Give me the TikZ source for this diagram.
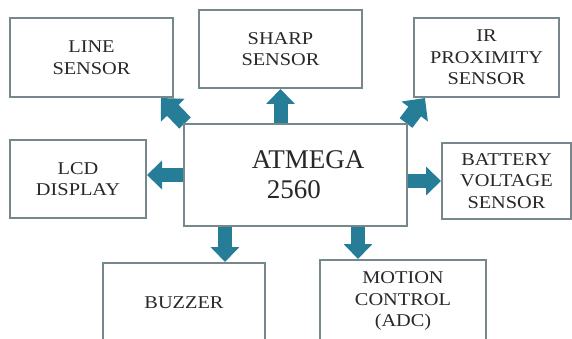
\documentclass[tikz,border=0pt]{standalone}
\usepackage{fontspec}
\setmainfont{Liberation Serif}[FakeStretch=1.13]
\newfontfamily\chipfont{Liberation Serif}
\usepackage{xcolor}
\usepackage{tikz}
\usetikzlibrary{positioning,arrows.meta,backgrounds}
\definecolor{flowblue}{RGB}{38,125,152}
\definecolor{boxgray}{RGB}{118,136,140}
\definecolor{labelgray}{RGB}{40,40,40}

\tikzset{
  blockbox/.style={draw=boxgray, line width=2pt, fill=white, align=center,
    text=labelgray, inner sep=0pt, font=\fontsize{18}{21.5}\selectfont},
  fatarrow/.style={flowblue, line width=14pt, -{Triangle[length=15pt,width=28pt]}},
  slantarrow/.style={flowblue, line width=16pt, -{Triangle[length=17pt,width=32pt]}},
}

\begin{document}
\begin{tikzpicture}[x=1pt,y=-1pt]
  \useasboundingbox (0,0) rectangle (572,339);

  % ---- Centre: microcontroller ----
  \node[blockbox, minimum width=223pt, minimum height=102pt, align=left,
    font=\chipfont\fontsize{27}{30}\selectfont] (mcu) at (295.5,175)
    {\hspace*{25pt}ATMEGA\\\hspace*{40pt}2560};

  % ---- Top row ----
  \node[blockbox, minimum width=163pt, minimum height=79pt] (line) at (91.5,57.5) {LINE\\SENSOR};
  \node[blockbox, minimum width=163pt, minimum height=78pt] (sharp) at (280.5,49) {SHARP\\SENSOR};
  \node[blockbox, minimum width=145pt, minimum height=79pt] (ir) at (486.5,57.5) {IR\\PROXIMITY\\SENSOR};

  % ---- Middle row ----
  \node[blockbox, minimum width=136pt, minimum height=78pt] (lcd) at (78,179) {LCD\\DISPLAY};
  \node[blockbox, minimum width=129pt, minimum height=76pt] (battery) at (506.5,181) {BATTERY\\VOLTAGE\\SENSOR};

  % ---- Bottom row ----
  \node[blockbox, minimum width=162pt, minimum height=79pt] (buzzer) at (184,302.5) {BUZZER};
  \node[blockbox, minimum width=166pt, minimum height=82pt] (motion) at (403,301) {MOTION\\CONTROL\\(ADC)};

  % Arrow feet on the chip box
  \coordinate (bzfoot) at ([xshift=42pt]mcu.south west);
  \coordinate (mcfoot) at ([xshift=-50pt]mcu.south east);

  % ---- Block arrows, behind the boxes ----
  \begin{scope}[on background layer]
    \fill[white] (0,0) rectangle (572,339);
    \draw[slantarrow] ([xshift=2pt]mcu.north west) -- ([xshift=-13pt]line.south east);
    \draw[fatarrow] (sharp.south |- mcu.north) -- (sharp.south);
    \draw[slantarrow] ([xshift=-2pt]mcu.north east) -- ([xshift=12pt]ir.south west);
    \draw[fatarrow] (mcu.west) -- (mcu.west -| lcd.east);
    \draw[fatarrow] (battery.west -| mcu.east) -- (battery.west);
    \draw[fatarrow] (bzfoot) -- (bzfoot |- buzzer.north);
    \draw[fatarrow] (mcfoot) -- (mcfoot |- motion.north);
  \end{scope}
\end{tikzpicture}
\end{document}
